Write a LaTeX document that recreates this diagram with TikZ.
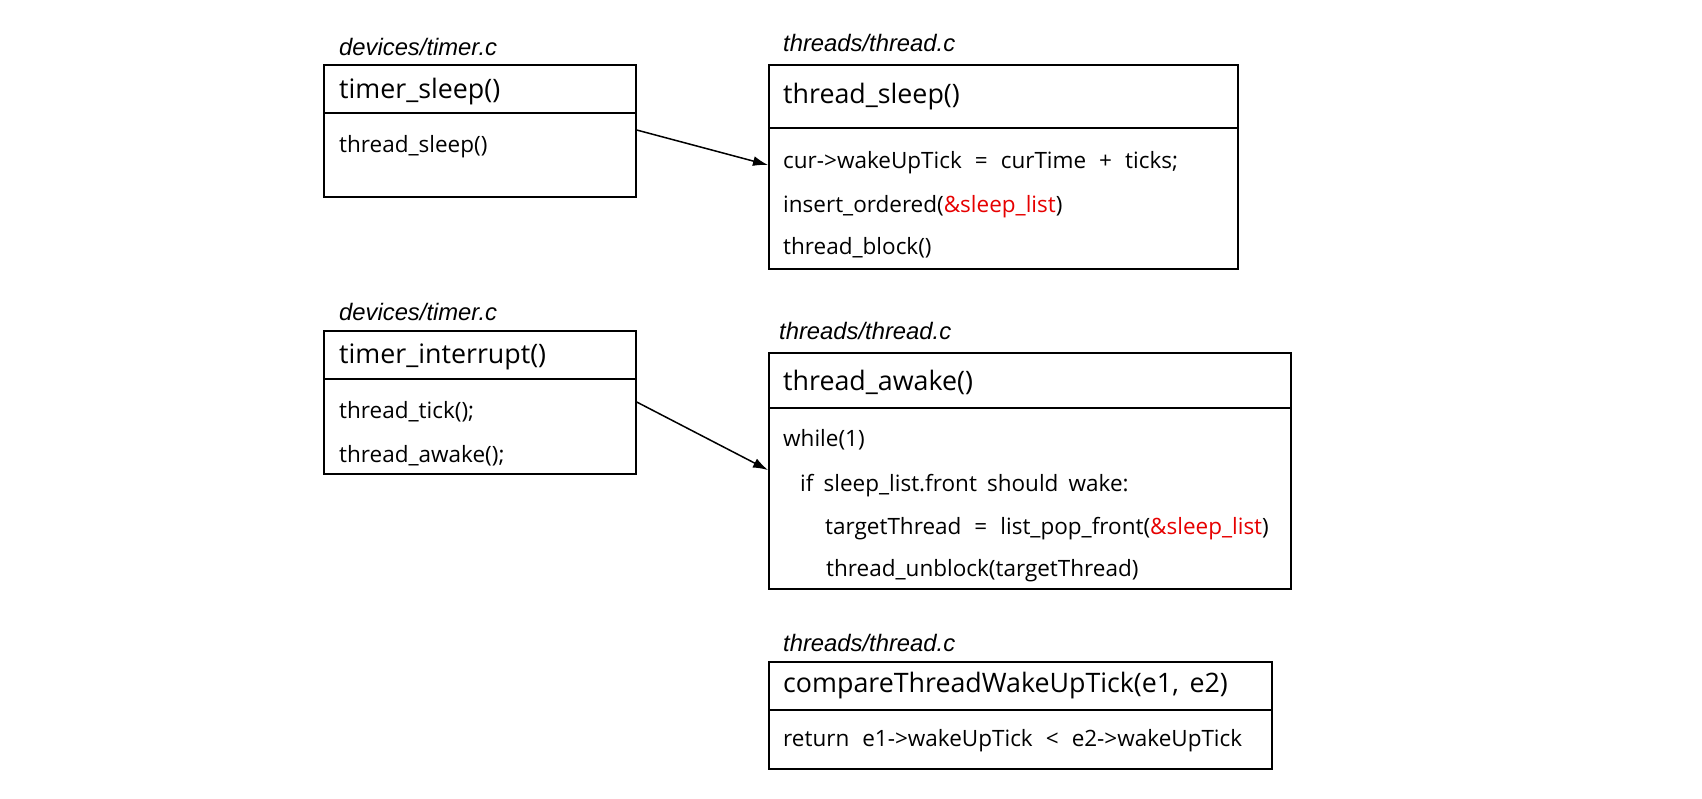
\documentclass[tikz,border=0pt]{standalone}
\usepackage{fontspec}
\setmainfont{Open Sans}
\newfontfamily\lblfont{Liberation Sans}
\usetikzlibrary{arrows.meta}
\definecolor{listred}{RGB}{230,0,0}
\newcommand\ttlwide{\spaceskip=0.4em\relax\strut}
\newcommand\codewide{\spaceskip=0.58em\relax\strut}
\newcommand\codenarrow{\spaceskip=0.45em\relax\strut}
\begin{document}
\begin{tikzpicture}[x=1pt,y=-1pt,
  part/.style={draw=black, line width=1.7pt, anchor=north west, inner sep=0pt, fill=none},
  filelbl/.style={anchor=west, inner sep=0pt, font=\lblfont\itshape\fontsize{23.8}{28}\selectfont},
  ttl/.style={anchor=west, inner sep=0pt, font=\fontsize{26.8}{32}\selectfont, execute at begin node=\ttlwide},
  code/.style={anchor=west, inner sep=0pt, font=\fontsize{22.5}{27}\selectfont, execute at begin node=\codewide},
  codetight/.style={code, execute at begin node=\codenarrow},
  flow/.style={line width=1.5pt, -{Latex[length=15pt,width=10pt]}}
]
\useasboundingbox (0,0) rectangle (1702,798);

% Box A: timer_sleep
\node[filelbl] (alab) at (339,47) {devices/timer.c};
\node[part, minimum width=312pt, minimum height=48pt] (atitle) at (323,64) {};
\node[part, minimum width=312pt, minimum height=84pt] (abody) at (323,112) {};
\node[ttl] (at) at (339,92) {timer\_sleep()};
\node[code] (a1) at (339,147) {thread\_sleep()};

% Box B: thread_sleep
\node[filelbl] (blab) at (783,43) {threads/thread.c};
\node[part, minimum width=469pt, minimum height=63pt] (btitle) at (768,64) {};
\node[part, minimum width=469pt, minimum height=141pt] (bbody) at (768,127) {};
\node[ttl] (bt) at (783,97) {thread\_sleep()};
\node[code] (b1) at (783,163) {cur->wakeUpTick = curTime + ticks;};
\node[code] (b2) at (783,207) {insert\_ordered(\textcolor{listred}{\&sleep\_list})};
\node[code] (b3) at (783,249) {thread\_block()};

% Box C: timer_interrupt
\node[filelbl] (clab) at (339,312) {devices/timer.c};
\node[part, minimum width=312pt, minimum height=48pt] (ctitle) at (323,330) {};
\node[part, minimum width=312pt, minimum height=95pt] (cbody) at (323,378) {};
\node[ttl] (ct) at (339,357) {timer\_interrupt()};
\node[code] (c1) at (339,413) {thread\_tick();};
\node[code] (c2) at (339,457) {thread\_awake();};

% Box D: thread_awake
\node[filelbl] (dlab) at (779,331) {threads/thread.c};
\node[part, minimum width=522pt, minimum height=55pt] (dtitle) at (768,352) {};
\node[part, minimum width=522pt, minimum height=181pt] (dbody) at (768,407) {};
\node[ttl] (dt) at (783,384) {thread\_awake()};
\node[code] (d1) at (783,441) {while(1)};
\node[codetight] (d2) at (800,486) {if sleep\_list.front should wake:};
\node[code] (d3) at (825,529) {targetThread = list\_pop\_front(\textcolor{listred}{\&sleep\_list})};
\node[code] (d4) at (826,571) {thread\_unblock(targetThread)};

% Box E: compareThreadWakeUpTick
\node[filelbl] (elab) at (783,643) {threads/thread.c};
\node[part, minimum width=503pt, minimum height=48pt] (etitle) at (768,661) {};
\node[part, minimum width=503pt, minimum height=59pt] (ebody) at (768,709) {};
\node[ttl] (et) at (783,686) {compareThreadWakeUpTick(e1, e2)};
\node[code] (e1) at (783,741) {return e1->wakeUpTick < e2->wakeUpTick};

% Connectors
\draw[flow] ([yshift=-18pt]abody.north east) -- ([yshift=-38pt]bbody.north west);
\draw[flow] ([yshift=-24pt]cbody.north east) -- ([yshift=-63pt]dbody.north west);
\end{tikzpicture}
\end{document}
